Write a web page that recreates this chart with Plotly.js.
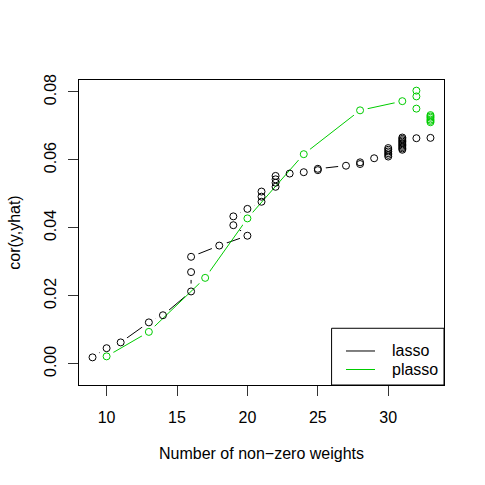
<!DOCTYPE html>
<html><head><meta charset="utf-8">
<script src="https://cdn.plot.ly/plotly-3.0.1.min.js"></script>
<style>html,body{margin:0;padding:0;background:#fff}</style>
</head><body><div id="chart" style="width:485px;height:485px"></div>
<script>
// ---- data ----
const lassoDf = [9,10,11,13,14,16,16,16,18,20,19,19,20,21,21,21,22,22,22,22,23,24,25,25,27,28,28,29,
  30,30,30,30,30,30,31,31,31,31,31,31,31,31,31,31,32,33];
const lassoCor = [0.0019,0.0046,0.0063,0.0122,0.0143,0.0213,0.0270,0.0315,0.0348,0.0377,0.0408,0.0434,0.0456,
  0.0477,0.0492,0.0507,0.0521,0.0533,0.0543,0.0553,0.0560,0.0564,0.0570,0.0574,0.0583,0.0588,0.0593,0.0605,
  0.0610,0.0615,0.0620,0.0625,0.0630,0.0635,
  0.0630,0.0634,0.0638,0.0642,0.0646,0.0650,0.0654,0.0658,0.0662,0.0666,0.0664,0.0665];
const plassoDf = [10,13,17,20,24,28,31,32,32,32,33,33,33,33,33,33];
const plassoCor = [0.0022,0.0094,0.0253,0.0428,0.0617,0.0746,0.0773,0.0787,0.0804,0.0751,
  0.0732,0.0728,0.0724,0.0719,0.0715,0.0711];
const seriesNames = ['lasso','plasso'];
const xTicks = [10,15,20,25,30];
const yTicks = [0,0.02,0.04,0.06,0.08];
const yTickText = ['0.00','0.02','0.04','0.06','0.08'];

// ---- style ----
const BLACK = '#000000', GREEN = '#00CC00';
const FONT = 'Liberation Sans, Arial, Helvetica, sans-serif';

function lineTrace(x, y, c){ return {x, y, type:'scatter', mode:'lines', line:{color:c, width:1}, showlegend:false, hoverinfo:'skip'}; }
function maskTrace(x, y){ return {x, y, type:'scatter', mode:'markers', marker:{symbol:'circle', size:16, color:'#ffffff', line:{width:0}}, showlegend:false, hoverinfo:'skip'}; }
function ptTrace(x, y, c, name){ return {x, y, type:'scatter', mode:'markers', name, marker:{symbol:'circle-open', size:7, color:c, line:{width:1, color:c}}, showlegend:false}; }

const data = [
  lineTrace(lassoDf, lassoCor, BLACK),
  maskTrace(lassoDf, lassoCor),
  lineTrace(plassoDf, plassoCor, GREEN),
  maskTrace(plassoDf, plassoCor),
  ptTrace(lassoDf, lassoCor, BLACK, seriesNames[0]),
  ptTrace(plassoDf, plassoCor, GREEN, seriesNames[1])
];

// custom R-style legend (paper coords)
const lx0 = 0.692, ly1 = 0.186;
const legY = [0.1115, 0.0508];
const shapes = [
  {type:'rect', xref:'paper', yref:'paper', x0:lx0, x1:1, y0:0, y1:ly1, line:{color:BLACK, width:1}, fillcolor:'#ffffff', layer:'above'},
  {type:'line', xref:'paper', yref:'paper', x0:0.7315, x1:0.811, y0:legY[0], y1:legY[0], line:{color:BLACK, width:1}, layer:'above'},
  {type:'line', xref:'paper', yref:'paper', x0:0.7315, x1:0.811, y0:legY[1], y1:legY[1], line:{color:GREEN, width:1}, layer:'above'}
];
const annotations = [
  {xref:'paper', yref:'paper', x:0.852, y:legY[0], xanchor:'left', yanchor:'middle', text:seriesNames[0], showarrow:false, font:{size:16, color:BLACK, family:FONT}},
  {xref:'paper', yref:'paper', x:0.852, y:legY[1], xanchor:'left', yanchor:'middle', text:seriesNames[1], showarrow:false, font:{size:16, color:BLACK, family:FONT}}
];

const layout = {
  width:485, height:485,
  margin:{l:79, r:41, t:80, b:100, pad:0},
  paper_bgcolor:'#ffffff', plot_bgcolor:'#ffffff',
  font:{family:FONT, size:16, color:BLACK},
  showlegend:false,
  xaxis:{
    range:[8.04, 33.96], tickmode:'array', tickvals:xTicks, ticktext:xTicks.map(String),
    ticks:'outside', ticklen:10, tickwidth:1, tickcolor:'#333333',
    showline:true, mirror:true, linecolor:BLACK, linewidth:1,
    showgrid:false, zeroline:false, ticklabelstandoff:8,
    title:{text:'Number of non\u2212zero weights', font:{size:16, family:FONT}, standoff:22}
  },
  yaxis:{
    range:[-0.00623, 0.08353], tickmode:'array', tickvals:yTicks, ticktext:yTickText, tickangle:-90,
    ticks:'outside', ticklen:10, tickwidth:1, tickcolor:'#333333',
    showline:true, mirror:true, linecolor:BLACK, linewidth:1,
    showgrid:false, zeroline:false, ticklabelstandoff:6,
    title:{text:'cor(y,yhat)', font:{size:16, family:FONT}, standoff:16}
  },
  shapes, annotations
};

Plotly.newPlot('chart', data, layout, {staticPlot:true, displayModeBar:false});
</script>
</body></html>
